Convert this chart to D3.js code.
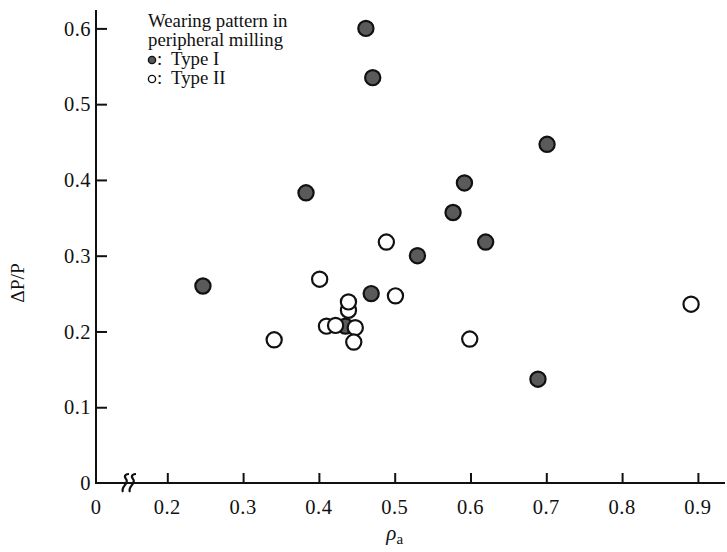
<!DOCTYPE html>
<html><head><meta charset="utf-8">
<script src="https://cdn.jsdelivr.net/npm/d3@7"></script>
<style>
body{margin:0;background:#fff;}
text{font-family:"Liberation Serif","Times New Roman",serif;fill:#111;}
</style></head>
<body><svg id="c" width="727" height="552"></svg>
<script>
// Data
const typeI_x  = [0.247, 0.383, 0.462, 0.471, 0.469, 0.530, 0.577, 0.592, 0.620, 0.701, 0.689, 0.435];
const typeI_y  = [0.260, 0.383, 0.600, 0.535, 0.250, 0.300, 0.357, 0.396, 0.318, 0.447, 0.137, 0.207];
const typeII_x = [0.341, 0.401, 0.439, 0.439, 0.410, 0.422, 0.448, 0.446, 0.489, 0.501, 0.599, 0.891];
const typeII_y = [0.189, 0.269, 0.228, 0.239, 0.207, 0.208, 0.205, 0.186, 0.318, 0.247, 0.190, 0.236];
const xTicks = [0.2, 0.3, 0.4, 0.5, 0.6, 0.7, 0.8, 0.9];
const yTicks = [0.1, 0.2, 0.3, 0.4, 0.5, 0.6];
const legendLines = ["Wearing pattern in", "peripheral milling"];
const legendItems = ["Type I", "Type II"];

const svg = d3.select("#c");
const x0 = 96, y0 = 483;
// broken x axis: 0 at origin, then linear from 0.2
const x = d3.scaleLinear().domain([0, 0.2, 0.9]).range([x0, 167.3, 697.9]);
const y = d3.scaleLinear().domain([0, 0.6]).range([y0, 28.4]);

const ink = "#111";
// axes lines
svg.append("line").attr("x1", x0).attr("x2", x0).attr("y1", 10).attr("y2", y0+1)
  .attr("stroke", ink).attr("stroke-width", 2);
svg.append("line").attr("x1", x0).attr("x2", 725).attr("y1", y0).attr("y2", y0)
  .attr("stroke", ink).attr("stroke-width", 2);

// y ticks
const yAxis = d3.axisRight(y).tickValues(yTicks).tickSize(11).tickFormat("");
const gy = svg.append("g").attr("transform", `translate(${x0},0)`).call(yAxis);
gy.select(".domain").remove();
gy.selectAll(".tick line").attr("stroke", ink).attr("stroke-width", 2);
svg.selectAll(".ylab").data([0].concat(yTicks)).enter().append("text")
  .attr("x", 91).attr("y", d => y(d)).attr("dy", "0.35em").attr("text-anchor", "end")
  .attr("font-size", 20.5).attr("letter-spacing", 0.5).text(d => d === 0 ? "0" : d3.format(".1f")(d));

// x ticks
const xAxis = d3.axisTop(x).tickValues(xTicks).tickSize(10).tickFormat("");
const gx = svg.append("g").attr("transform", `translate(0,${y0})`).call(xAxis);
gx.select(".domain").remove();
gx.selectAll(".tick line").attr("stroke", ink).attr("stroke-width", 2);
svg.selectAll(".xlab").data([0].concat(xTicks)).enter().append("text")
  .attr("x", d => x(d)).attr("y", 507).attr("dy", "0.35em").attr("text-anchor", "middle")
  .attr("font-size", 20.5).attr("letter-spacing", 0.5).text(d => d === 0 ? "0" : d3.format(".1f")(d));

// axis break symbol
[126, 133].forEach(cx => {
  svg.append("path")
    .attr("d", `M${cx-3},${y0+9} C${cx-6},${y0+4} ${cx+4},${y0} ${cx},${y0-4} C${cx-3},${y0-8} ${cx+1},${y0-9} ${cx+3},${y0-9}`)
    .attr("fill", "none").attr("stroke", ink).attr("stroke-width", 2.2);
});

// axis titles
svg.append("text").attr("transform", "translate(24,283) rotate(-90)")
  .attr("text-anchor", "middle").attr("font-size", 19.5).text("ΔP/P");
const xt = svg.append("text").attr("x", x(0.5)).attr("y", 540).attr("text-anchor", "middle").attr("font-size", 21);
xt.append("tspan").attr("font-style", "italic").text("ρ");
xt.append("tspan").attr("font-size", 15).attr("dy", 4).text("a");

// points
const darkFill = "#5a5a5a";
svg.selectAll(".p1").data(d3.range(typeI_x.length)).enter().append("circle")
  .attr("cx", i => x(typeI_x[i])).attr("cy", i => y(typeI_y[i])).attr("r", 7.6)
  .attr("fill", darkFill).attr("stroke", ink).attr("stroke-width", 2.2);
svg.selectAll(".p2").data(d3.range(typeII_x.length)).enter().append("circle")
  .attr("cx", i => x(typeII_x[i])).attr("cy", i => y(typeII_y[i])).attr("r", 7.6)
  .attr("fill", "#fff").attr("stroke", ink).attr("stroke-width", 2.2);

// legend
const lx = 148;
legendLines.forEach((t, i) => {
  svg.append("text").attr("x", lx).attr("y", 27 + i*19).attr("font-size", 18.8).text(t);
});
legendItems.forEach((t, i) => {
  const by = 65 + i*19;
  svg.append("circle").attr("cx", lx+4).attr("cy", by-5).attr("r", 3.6)
    .attr("fill", i === 0 ? darkFill : "#fff").attr("stroke", ink).attr("stroke-width", 1.4);
  svg.append("text").attr("x", lx+9).attr("y", by).attr("font-size", 18.8).text(":");
  svg.append("text").attr("x", lx+23).attr("y", by).attr("font-size", 18.8).text(t);
});
</script></body></html>
